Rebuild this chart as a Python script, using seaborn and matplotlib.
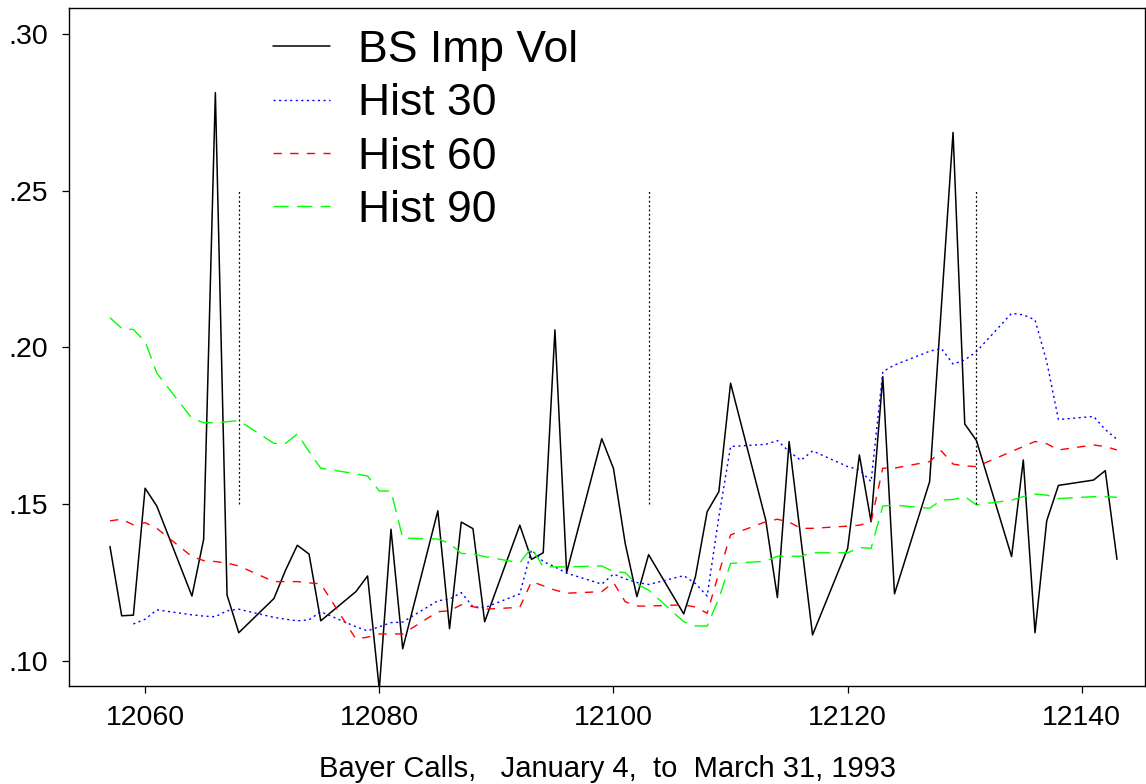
import matplotlib
matplotlib.use("Agg")
import matplotlib.pyplot as plt
import matplotlib.ticker as mticker
import seaborn as sns
import numpy as np

# SAS day numbers (days since 1960-01-01), trading days Jan 4 - Mar 31, 1993
hist_dates = [12057, 12058, 12059, 12060, 12061,
              12064, 12065, 12066, 12067, 12068,
              12071, 12072, 12073, 12074, 12075,
              12078, 12079, 12080, 12081, 12082,
              12085, 12086, 12087, 12088, 12089,
              12092, 12093, 12094, 12095, 12096,
              12099, 12100, 12101, 12102, 12103,
              12106, 12107, 12108, 12109, 12110,
              12113, 12114, 12115, 12116, 12117,
              12120, 12121, 12122, 12123, 12124,
              12127, 12128, 12129, 12130, 12131,
              12134, 12135, 12136, 12137, 12138,
              12141, 12142, 12143]

bs_dates = [12057, 12058, 12059, 12060, 12061,
            12064, 12065, 12066, 12067, 12068,
            12071, 12072, 12073, 12074, 12075,
            12078, 12079, 12080, 12081, 12082,
            12085, 12086, 12087, 12088, 12089,
            12092, 12093, 12094, 12095, 12096,
            12099, 12100, 12101, 12102, 12103,
            12106, 12107, 12108, 12109, 12110,
            12113, 12114, 12115, 12117,
            12120, 12121, 12122, 12123, 12124,
            12127, 12129, 12130, 12131,
            12134, 12135, 12136, 12137, 12138,
            12141, 12142, 12143]

bs_imp_vol = [0.1365, 0.1144, 0.1146, 0.1551, 0.1494,
              0.1207, 0.1388, 0.2813, 0.1210, 0.1090,
              0.1199, 0.1290, 0.1369, 0.1341, 0.1128,
              0.1221, 0.1271, 0.0910, 0.1420, 0.1039,
              0.1479, 0.1103, 0.1443, 0.1422, 0.1125,
              0.1433, 0.1324, 0.1345, 0.2056, 0.1282,
              0.1709, 0.1614, 0.1375, 0.1205, 0.1339,
              0.1150, 0.1269, 0.1476, 0.1540, 0.1886,
              0.1450, 0.1202, 0.1700, 0.1083,
              0.1359, 0.1657, 0.1444, 0.1907, 0.1214,
              0.1572, 0.2686, 0.1756, 0.1703,
              0.1333, 0.1641, 0.1090, 0.1447, 0.1560,
              0.1577, 0.1607, 0.1324]

hist30_dates = hist_dates[2:]
hist30 = [0.1118, 0.1133, 0.1163,
          0.1147, 0.1143, 0.1141, 0.1160, 0.1165,
          0.1139, 0.1133, 0.1128, 0.1131, 0.1157,
          0.1109, 0.1096, 0.1109, 0.1122, 0.1124,
          0.1192, 0.1197, 0.1218, 0.1173, 0.1170,
          0.1214, 0.1354, 0.1317, 0.1300, 0.1280,
          0.1245, 0.1277, 0.1262, 0.1250, 0.1244,
          0.1272, 0.1247, 0.1207, 0.1460, 0.1684,
          0.1691, 0.1703, 0.1668, 0.1640, 0.1670,
          0.1620, 0.1610, 0.1572, 0.1923, 0.1944,
          0.1988, 0.1997, 0.1947, 0.1960, 0.1987,
          0.2109, 0.2104, 0.2088, 0.1955, 0.1770,
          0.1780, 0.1738, 0.1707]

hist60 = [0.1447, 0.1452, 0.1434, 0.1441, 0.1423,
          0.1333, 0.1320, 0.1317, 0.1312, 0.1303,
          0.1253, 0.1253, 0.1253, 0.1249, 0.1246,
          0.1070, 0.1076, 0.1086, 0.1086, 0.1086,
          0.1157, 0.1160, 0.1179, 0.1173, 0.1165,
          0.1171, 0.1253, 0.1240, 0.1226, 0.1216,
          0.1221, 0.1250, 0.1189, 0.1175, 0.1175,
          0.1179, 0.1172, 0.1152, 0.1280, 0.1402,
          0.1444, 0.1452, 0.1443, 0.1423, 0.1423,
          0.1430, 0.1433, 0.1444, 0.1615, 0.1615,
          0.1636, 0.1670, 0.1628, 0.1622, 0.1620,
          0.1668, 0.1684, 0.1700, 0.1693, 0.1673,
          0.1689, 0.1684, 0.1673]

hist90 = [0.2095, 0.2061, 0.2057, 0.2019, 0.1918,
          0.1774, 0.1760, 0.1760, 0.1763, 0.1767,
          0.1694, 0.1694, 0.1724, 0.1668, 0.1615,
          0.1597, 0.1590, 0.1542, 0.1542, 0.1392,
          0.1389, 0.1375, 0.1343, 0.1341, 0.1333,
          0.1313, 0.1361, 0.1300, 0.1300, 0.1300,
          0.1303, 0.1285, 0.1282, 0.1245, 0.1226,
          0.1125, 0.1112, 0.1111, 0.1200, 0.1311,
          0.1318, 0.1334, 0.1334, 0.1334, 0.1345,
          0.1345, 0.1362, 0.1359, 0.1494, 0.1497,
          0.1487, 0.1513, 0.1515, 0.1524, 0.1498,
          0.1513, 0.1524, 0.1532, 0.1529, 0.1518,
          0.1524, 0.1524, 0.1522]

# option expiration days (third Fridays) marked by dotted verticals
expiry_days = [12068, 12103, 12131]
expiry_span = (0.15, 0.25)

x_ticks = [12060, 12080, 12100, 12120, 12140]
y_ticks = [0.10, 0.15, 0.20, 0.25, 0.30]
x_label = "Bayer Calls,   January 4,  to  March 31, 1993"

sns.set_style("ticks")
plt.rcParams["font.family"] = ["Liberation Sans", "DejaVu Sans"]
plt.rcParams.update({"text.color": "black", "axes.labelcolor": "black",
                     "xtick.color": "black", "ytick.color": "black",
                     "axes.edgecolor": "black"})

fig = plt.figure(figsize=(11.46, 7.84), dpi=100)
ax = fig.add_axes([0.0602, 0.125, 0.9390, 0.8648])

sns.lineplot(x=bs_dates, y=bs_imp_vol, ax=ax, color="black", lw=1.1,
             label="BS Imp Vol")
sns.lineplot(x=hist30_dates, y=hist30, ax=ax, color="#0000ff", lw=1.0,
             linestyle=(0, (1.5, 2.5)), label="Hist 30")
sns.lineplot(x=hist_dates, y=hist60, ax=ax, color="#ff0000", lw=1.0,
             linestyle=(0, (6, 6)), label="Hist 60")
sns.lineplot(x=hist_dates, y=hist90, ax=ax, color="#00ff00", lw=1.0,
             linestyle=(0, (11, 6)), label="Hist 90")

for d in expiry_days:
    ax.vlines(d, expiry_span[0], expiry_span[1], colors="black",
              linestyles=(0, (1.5, 2.0)), lw=0.9)

ax.set_xlim(12053.5, 12145.4)
ax.set_ylim(0.092, 0.3083)
ax.set_xticks(x_ticks)
ax.set_yticks(y_ticks)
ax.yaxis.set_major_formatter(
    mticker.FuncFormatter(lambda v, _: f"{v:.2f}".lstrip("0")))
ax.tick_params(axis="both", direction="out", length=5, width=0.9,
               labelsize=20.5, color="black", labelcolor="black")
ax.tick_params(axis="x", pad=9)
ax.tick_params(axis="y", pad=10)
for s in ax.spines.values():
    s.set_visible(True)
    s.set_linewidth(1.0)
    s.set_color("black")

ax.set_xlabel(x_label, fontsize=21, labelpad=17, color="black")
ax.set_ylabel("")

leg = ax.legend(loc="upper left", bbox_to_anchor=(0.19, 0.968),
                frameon=False, fontsize=32, handlelength=1.28,
                handletextpad=0.62, labelspacing=0.28, borderpad=0,
                borderaxespad=0)
for t in leg.get_texts():
    t.set_color("black")

fig.savefig("out.png", dpi=100)
